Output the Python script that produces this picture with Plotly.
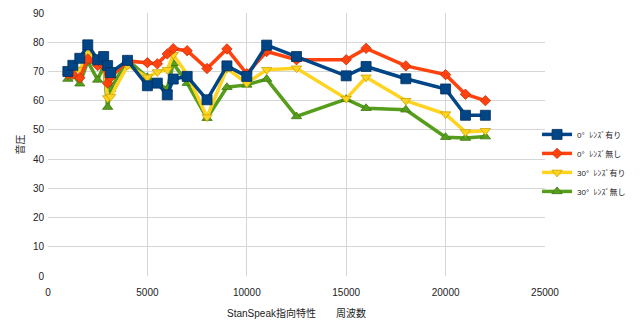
import plotly.graph_objects as go

# Frequency points (Hz)
freq = [1000, 1250, 1600, 2000, 2500, 2800, 3000, 3150, 4000, 5000, 5500, 6000,
        6300, 7000, 8000, 9000, 10000, 11000, 12500, 15000, 16000, 18000, 20000,
        21000, 22000]

# Sound pressure per condition
lens_0 = [70.0, 72.1, 74.5, 79.1, 74.0, 75.1, 72.0, 69.6, 73.8, 65.1, 66.0, 62.0,
          67.4, 68.3, 60.3, 71.9, 68.3, 79.0, 75.1, 68.5, 71.7, 67.5, 64.0,
          55.0, 55.0]
nolens_0 = [69.0, 69.0, 67.8, 74.2, 72.0, 72.0, 66.0, 68.0, 73.6, 73.0, 72.6, 76.0,
            77.8, 77.1, 71.0, 77.7, 69.2, 76.8, 74.0, 74.0, 77.9, 71.9, 68.9,
            62.2, 60.0]
lens_30 = [69.0, 70.0, 70.6, 76.3, 74.0, 73.0, 60.9, 61.4, 72.0, 68.0, 69.8, 70.6,
           75.7, 69.0, 54.4, 71.0, 66.0, 70.6, 71.1, 60.7, 68.0, 60.0, 55.4,
           49.3, 49.7]
nolens_30 = [67.4, 69.0, 65.8, 73.4, 67.1, 72.0, 57.8, 64.0, 74.0, 68.0, 66.0, 64.0,
             72.8, 66.0, 54.0, 64.6, 65.4, 67.4, 54.6, 60.5, 57.4, 56.9, 47.5,
             47.2, 47.7]

names = ["0°  ﾚﾝｽﾞ有り", "0°  ﾚﾝｽﾞ無し", "30°  ﾚﾝｽﾞ有り", "30°  ﾚﾝｽﾞ無し"]
x_ticks = [0, 5000, 10000, 15000, 20000, 25000]
y_ticks = [0, 10, 20, 30, 40, 50, 60, 70, 80, 90]

series = [
    (names[3], nolens_30, "#579d1c", "#3f7a10", "triangle-up", 9),
    (names[2], lens_30, "#ffd320", "#c9a400", "triangle-down", 9),
    (names[1], nolens_0, "#ff420e", "#c8300a", "diamond", 8),
    (names[0], lens_0, "#004586", "#00305e", "square", 10),
]

fig = go.Figure()
for name, vals, col, edge, sym, size in series:
    fig.add_trace(go.Scatter(
        x=freq, y=vals, name=name, mode="lines+markers",
        line=dict(color=col, width=3.5),
        marker=dict(symbol=sym, size=size, color=col,
                    line=dict(color=edge, width=0.8)),
    ))

font_main = "Liberation Sans Narrow, Liberation Sans, Noto Sans CJK JP, sans-serif"

fig.update_layout(
    width=640, height=333,
    margin=dict(l=48, r=95, t=13, b=57, autoexpand=False),
    paper_bgcolor="white", plot_bgcolor="white",
    font=dict(family=font_main, size=10, color="#222222"),
    showlegend=True,
    legend=dict(
        traceorder="reversed",
        x=0.984, xanchor="left", y=0.43, yanchor="middle",
        font=dict(size=8, family=font_main),
        itemwidth=30, tracegroupgap=0,
        bgcolor="rgba(0,0,0,0)",
    ),
    xaxis=dict(
        range=[0, 25000], tickvals=x_ticks, ticktext=[str(v) for v in x_ticks],
        showgrid=True, gridcolor="#d6d6d6", gridwidth=1,
        zeroline=False, showline=False, ticks="",
        tickfont=dict(size=10), ticklabelstandoff=9,
        title=dict(text="StanSpeak指向特性　　周波数", font=dict(size=10), standoff=12),
    ),
    yaxis=dict(
        range=[0, 90], tickvals=y_ticks,
        showgrid=True, gridcolor="#d6d6d6", gridwidth=1,
        zeroline=False, showline=False, ticks="",
        tickfont=dict(size=10), ticklabelstandoff=3,
        title=dict(text="音圧", font=dict(size=10), standoff=6),
    ),
)

fig.write_html("out.html")
